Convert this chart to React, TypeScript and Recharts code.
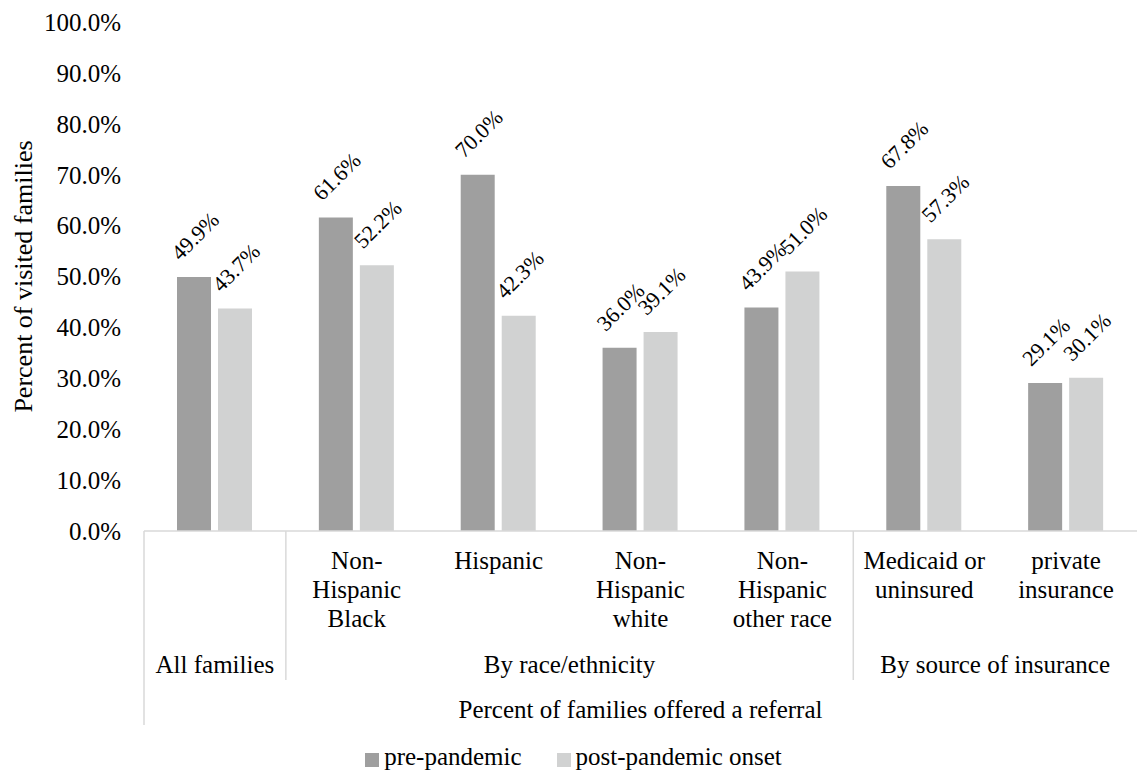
import React from 'react';
import { BarChart, Bar, XAxis, YAxis, Legend } from 'recharts';

// categories along the axis; '\n' splits a label onto several lines
const categories = [
  '',
  'Non-\nHispanic\nBlack',
  'Hispanic',
  'Non-\nHispanic\nwhite',
  'Non-\nHispanic\nother race',
  'Medicaid or\nuninsured',
  'private\ninsurance',
];

const prePandemic = [49.9, 61.6, 70.0, 36.0, 43.9, 67.8, 29.1];
const postPandemic = [43.7, 52.2, 42.3, 39.1, 51.0, 57.3, 30.1];

// second row of the axis: groups of categories
const groupLabels = ['All families', 'By race/ethnicity', 'By source of insurance'];
const groupStarts = [0, 1, 5];
const groupSpans = [1, 4, 2];

const outerLabel = 'Percent of families offered a referral';
const yTicks = [0, 10, 20, 30, 40, 50, 60, 70, 80, 90, 100];

const seriesNames = ['pre-pandemic', 'post-pandemic onset'];
const seriesColors = ['#9f9f9f', '#d1d2d2'];

const data = categories.map((category, i) => ({
  category,
  pre: prePandemic[i],
  post: postPandemic[i],
}));

const FONT = "'Liberation Serif', Tinos, 'Times New Roman', Times, 'DejaVu Serif', serif";
const CHART_W = 1137;
const CHART_H = 775;
const Y_AXIS_W = 144;
const BAND = (CHART_W - Y_AXIS_W) / categories.length;
const LINE_COLOR = '#d9d9d9';
const TXT = { fontFamily: FONT, fontSize: 25, fill: '#000' };

const CategoryTick = (props: any) => {
  const { x, y, index, payload } = props;
  const lines = String(payload.value).split('\n').filter((l) => l.length > 0);
  const g = groupStarts.indexOf(index);
  return (
    <g>
      {lines.map((line, k) => (
        <text key={k} x={x} y={y + 38 + k * 29} textAnchor="middle" style={TXT}>
          {line}
        </text>
      ))}
      {g >= 0 && (
        <>
          <text x={x + ((groupSpans[g] - 1) / 2) * BAND} y={y + 142} textAnchor="middle" style={TXT}>
            {groupLabels[g]}
          </text>
          <line
            x1={x - BAND / 2}
            x2={x - BAND / 2}
            y1={y}
            y2={index === 0 ? y + 194 : y + 149}
            stroke={LINE_COLOR}
            strokeWidth={1.5}
          />
        </>
      )}
      {index === 0 && (
        <text x={x + ((categories.length - 1) / 2) * BAND} y={y + 187} textAnchor="middle" style={TXT}>
          {outerLabel}
        </text>
      )}
    </g>
  );
};

// value labels sit above each bar, turned 45 degrees
const renderValueLabel = (props: any) => {
  const { x, y, width, value } = props;
  const cx = x + width / 2 + 1;
  const cy = y - 41;
  return (
    <text
      x={cx}
      y={cy}
      textAnchor="middle"
      dominantBaseline="central"
      transform={`rotate(-45 ${cx} ${cy})`}
      style={{ ...TXT, fontSize: 22 }}
    >
      {Number(value).toFixed(1)}%
    </text>
  );
};

const renderYTitle = (props: any) => {
  const vb = props.viewBox || {};
  const cy = (vb.y ?? 22) + (vb.height ?? 509) / 2;
  return (
    <text
      x={32}
      y={cy}
      textAnchor="middle"
      transform={`rotate(-90 32 ${cy})`}
      style={{ ...TXT, fontSize: 26 }}
    >
      Percent of visited families
    </text>
  );
};

const renderLegend = () => (
  <div
    style={{
      display: 'flex',
      justifyContent: 'center',
      height: 32,
      paddingLeft: 10,
      fontFamily: FONT,
      fontSize: 25,
      lineHeight: '28px',
      color: '#000',
    }}
  >
    {seriesNames.map((name, i) => (
      <div key={name} style={{ display: 'flex', alignItems: 'flex-start', marginRight: i === 0 ? 35 : 0 }}>
        <span
          style={{ width: 14, height: 14, background: seriesColors[i], marginTop: 10, marginRight: 5 }}
        />
        <span>{name}</span>
      </div>
    ))}
  </div>
);

export default function App() {
  return (
    <div style={{ position: 'absolute', left: 0, top: 0, background: '#fff', fontFamily: FONT }}>
      <BarChart
        width={CHART_W}
        height={CHART_H}
        data={data}
        margin={{ top: 22, right: 0, bottom: 0, left: 0 }}
        barSize={34}
        barGap={7}
      >
        <XAxis
          dataKey="category"
          interval={0}
          tickLine={false}
          tickSize={0}
          tickMargin={0}
          height={212}
          axisLine={{ stroke: LINE_COLOR, strokeWidth: 1.5 }}
          tick={<CategoryTick />}
        />
        <YAxis
          width={Y_AXIS_W}
          domain={[0, 100]}
          ticks={yTicks}
          axisLine={false}
          tickLine={false}
          tickSize={6}
          tickMargin={17}
          tick={{ fill: '#000', fontSize: 25, style: { fontFamily: FONT } }}
          tickFormatter={(v: number) => `${v.toFixed(1)}%`}
          label={renderYTitle}
        />
        <Legend verticalAlign="bottom" content={renderLegend} />
        <Bar dataKey="pre" name={seriesNames[0]} fill={seriesColors[0]} isAnimationActive={false} label={renderValueLabel} />
        <Bar dataKey="post" name={seriesNames[1]} fill={seriesColors[1]} isAnimationActive={false} label={renderValueLabel} />
      </BarChart>
    </div>
  );
}
